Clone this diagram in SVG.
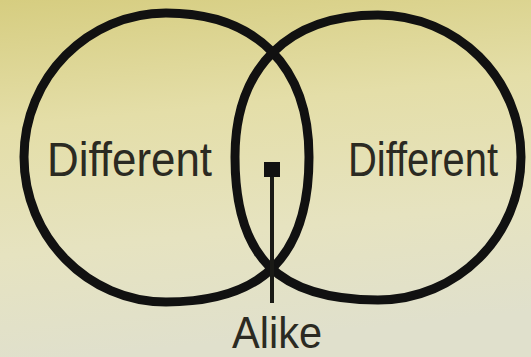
<svg xmlns="http://www.w3.org/2000/svg" width="531" height="357" viewBox="0 0 531 357">
  <defs>
    <linearGradient id="bg" x1="0" y1="0" x2="0.15" y2="1">
      <stop offset="0" stop-color="#d6cd80"/>
      <stop offset="0.35" stop-color="#e4dea8"/>
      <stop offset="0.7" stop-color="#e6e3c0"/>
      <stop offset="1" stop-color="#e0e0cc"/>
    </linearGradient>
  </defs>
  <style>
    .ring { fill: none; stroke: #111; stroke-width: 9; stroke-linejoin: round; }
    .lbl { font-family: "Liberation Sans", Arial, sans-serif; fill: #2b2a22; }
    .ptr { stroke: #1a1a16; stroke-width: 4; fill: none; }
  </style>
  <rect x="0" y="0" width="531" height="357" fill="url(#bg)"/>
  <g id="node-left">
    <path class="ring" d="M309,157 C309,255.6 263.2,302 166,302 C87.9,302 24,237 24,157 C24,77.4 87.9,13 166,13 C256.1,13 309,66.3 309,157 Z"/>
    <text class="lbl" x="47" y="176" font-size="48" textLength="165" lengthAdjust="spacingAndGlyphs">Different</text>
  </g>
  <g id="node-right">
    <path class="ring" d="M235,157 C235,257.1 277.9,300 378,300 C457,300 521,236 521,157 C521,78.5 457,15 378,15 C287.9,15 235,67.5 235,157 Z"/>
    <text class="lbl" x="348" y="176" font-size="48" textLength="150" lengthAdjust="spacingAndGlyphs">Different</text>
  </g>
  <g id="connectors">
    <line class="ptr" x1="272" y1="172" x2="272" y2="303"/>
    <rect x="264" y="162" width="16" height="15" fill="#111"/>
  </g>
  <g id="node-alike">
    <text class="lbl" x="232" y="348" font-size="45" textLength="90" lengthAdjust="spacingAndGlyphs">Alike</text>
  </g>
</svg>
